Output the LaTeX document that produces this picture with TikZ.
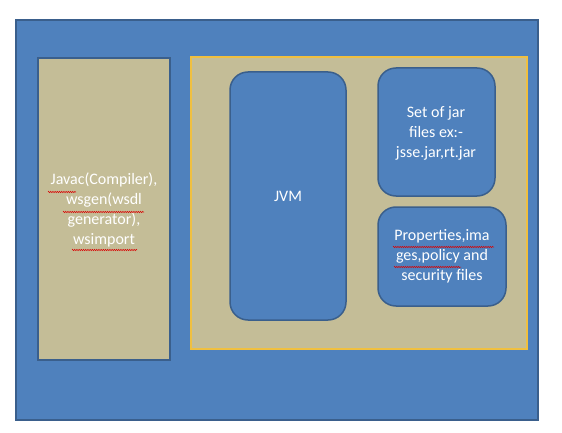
\documentclass[tikz,border=0pt]{standalone}
\usepackage{fontspec}
\usetikzlibrary{decorations.pathmorphing}
\setmainfont{Carlito}
\definecolor{ofblue}{HTML}{4F81BD}
\definecolor{ofedge}{HTML}{3A5F8C}
\definecolor{oftan}{HTML}{C4BD97}
\definecolor{ofyellow}{HTML}{F0C040}
\tikzset{
  panel/.style={draw=ofedge, line width=1.5pt, fill=oftan},
  rbox/.style={draw=ofedge, line width=1.5pt, fill=ofblue, rounded corners=18pt},
  lbl/.style={text=white, font=\fontsize{16}{20}\selectfont, align=center, inner sep=0pt},
  squiggle/.style={draw=red!85!black, line width=0.5pt, decorate, decoration={zigzag, amplitude=0.7pt, segment length=2.2pt}},
}
\begin{document}
\begin{tikzpicture}[x=1pt,y=-1pt]
\useasboundingbox (0,0) rectangle (562,433);
\fill[white] (0,0) rectangle (562,433);
\draw[draw=ofedge, line width=1.5pt, fill=ofblue] (16,20) rectangle (538,420);
\draw[panel] (38,58) rectangle (170,360);
\draw[draw=ofyellow, line width=1.5pt, fill=oftan] (191,57) rectangle (527,349);
\draw[rbox] (230,72) rectangle (346,320);
\draw[rbox] (378,68) rectangle (495,196);
\draw[rbox] (378,207) rectangle (506,306);
\node[lbl] (tools) at (104,210) {Javac(Compiler),\\wsgen(wsdl\\generator),\\wsimport};
\node[lbl] (jvm) at (288,196) {JVM};
\node[lbl] (jars) at (436,133) {Set of jar\\files ex:-\\jsse.jar,rt.jar};
\node[lbl] (props) at (442,256) {Properties,ima\\ges,policy and\\security files};
\coordinate (s1a) at (48,192);  \coordinate (s1b) at (76,192);
\coordinate (s2a) at (63,212);  \coordinate (s2b) at (144,212);
\coordinate (s3a) at (72,250);  \coordinate (s3b) at (137,250);
\coordinate (s4a) at (393,247); \coordinate (s4b) at (494,247);
\coordinate (s5a) at (394,267); \coordinate (s5b) at (461,267);
\draw[squiggle] (s1a) -- (s1b);
\draw[squiggle] (s2a) -- (s2b);
\draw[squiggle] (s3a) -- (s3b);
\draw[squiggle] (s4a) -- (s4b);
\draw[squiggle] (s5a) -- (s5b);
\end{tikzpicture}
\end{document}
